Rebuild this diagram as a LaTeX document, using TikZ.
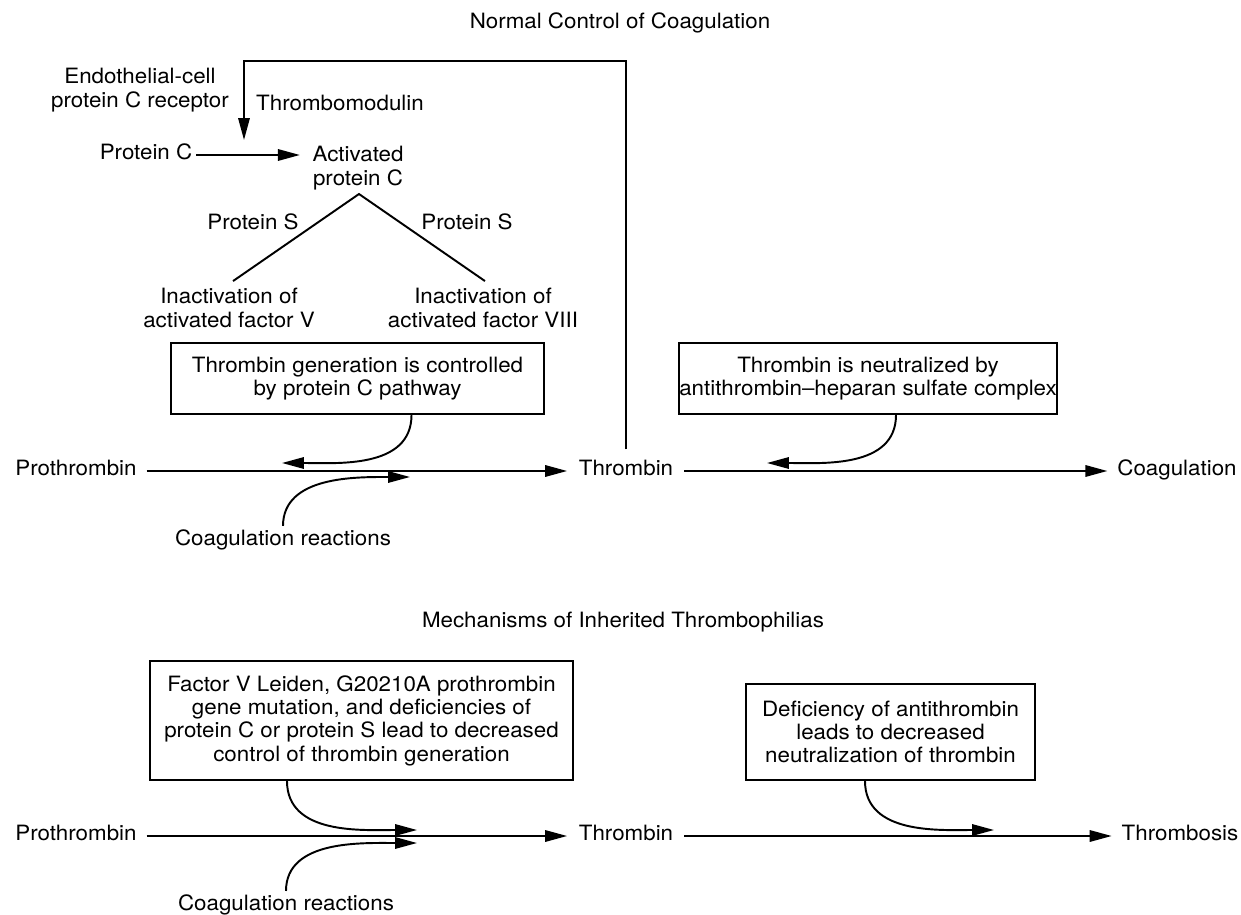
\documentclass[tikz,border=0pt]{standalone}
\usepackage{fontspec}
\setmainfont[FakeStretch=1.06]{TeX Gyre Heros}
\usetikzlibrary{positioning, arrows.meta, calc}

\begin{document}
\begin{tikzpicture}[x=0.02cm, y=-0.02cm, font=\fontsize{12}{13.3}\selectfont,
    lbl/.style={inner sep=0pt, align=center},
    row/.style={inner sep=0pt, anchor=mid},
    box/.style={draw, line width=1.1pt, align=center, inner sep=0pt},
    arr/.style={line width=1.1pt, -{Triangle[length=12.5pt, width=6.5pt]}},
    link/.style={line width=1.1pt}]
    \path[use as bounding box] (0,0) rectangle (1241,915);
    % normal control: protein C pathway
    \node[lbl] (title1) at (620,23) {Normal Control of Coagulation};
    \node[lbl] (epcr) at (140,90) {Endothelial-cell\\protein C receptor};
    \node[lbl] (tmod) at (340,103) {Thrombomodulin};
    \node[row] (protc) at (146,155) {Protein C};
    \node[lbl] (apc) at (358,168) {Activated\\protein C};
    \node[lbl] (psl) at (253,222) {Protein S};
    \node[lbl] (psr) at (467,222) {Protein S};
    \node[lbl] (inactv) at (229,308) {Inactivation of\\activated factor V};
    \node[lbl] (inactviii) at (483,308) {Inactivation of\\activated factor VIII};
    \coordinate (apex) at ($(apc.south)+(1,4)$);
    \draw[link] ($(inactv.north)+(4,-7)$) -- (apex) -- ($(inactviii.north)+(2,-7)$);
    \draw[arr, shorten <=2pt, shorten >=7pt] (protc.mid east) -- (protc.mid east -| apc.west);
    % thrombin row
    \node[box, minimum width=7.46cm, minimum height=1.42cm] (ctrlbox) at (357.5,378.5)
        {Thrombin generation is controlled\\by protein C pathway};
    \node[box, minimum width=7.56cm, minimum height=1.42cm] (neutbox) at (868,378.5)
        {Thrombin is neutralized by\\antithrombin--heparan sulfate complex};
    \node[row] (prothr) at (76,471) {Prothrombin};
    \node[row] (thr) at (626,471) {Thrombin};
    \node[row] (coag) at (1177,471) {Coagulation};
    \node[lbl] (coagrx) at (283,540) {Coagulation reactions};
    \draw[arr, shorten <=5.5pt, shorten >=6.5pt] (prothr.mid east) -- (thr.mid west);
    \draw[arr, shorten <=6pt, shorten >=5.5pt] (thr.mid east) -- (coag.mid west);
    % thrombin feeds back to thrombomodulin
    \coordinate (tmtop) at (244,61);
    \coordinate (tmtip) at (244,140);
    \draw[arr, shorten <=6pt] (thr.north) |- (tmtop) -- (tmtip);
    \coordinate (ctrlin) at (282,463);
    \coordinate (rxin) at (410,477);
    \coordinate (neutin) at (767,463);
    \draw[arr] ($(ctrlbox.south)+(54,0)$) to[out=-90, in=0] (ctrlin);
    \draw[arr, shorten <=2pt] (coagrx.north) to[out=90, in=180] (rxin);
    \draw[arr] ($(neutbox.south)+(28,0)$) to[out=-90, in=0] (neutin);
    % inherited thrombophilias
    \node[lbl] (title2) at (623,622) {Mechanisms of Inherited Thrombophilias};
    \node[box, minimum width=8.46cm, minimum height=2.38cm] (fvlbox) at (361.5,720.5)
        {Factor V Leiden, G20210A prothrombin\\gene mutation, and deficiencies of\\protein C or protein S lead to decreased\\control of thrombin generation};
    \node[box, minimum width=5.78cm, minimum height=1.92cm] (atbox) at (890.5,732)
        {Deficiency of antithrombin\\leads to decreased\\neutralization of thrombin};
    \node[row] (prothrb) at (76,836) {Prothrombin};
    \node[row] (thrb) at (626,836) {Thrombin};
    \node[row] (thrombosis) at (1180,836) {Thrombosis};
    \node[lbl] (coagrxb) at (286,905) {Coagulation reactions};
    \draw[arr, shorten <=5.5pt, shorten >=6.5pt] (prothrb.mid east) -- (thrb.mid west);
    \draw[arr, shorten <=6pt, shorten >=5.5pt] (thrb.mid east) -- (thrombosis.mid west);
    \coordinate (fvlin) at (417,830);
    \coordinate (rxbin) at (417,843);
    \coordinate (atin) at (994,830);
    \draw[arr] ($(fvlbox.south)+(-74.5,0)$) to[out=-90, in=180] (fvlin);
    \draw[arr, shorten <=2pt] (coagrxb.north) to[out=90, in=180] (rxbin);
    \draw[arr] ($(atbox.south)+(-25.5,0)$) to[out=-90, in=180] (atin);
\end{tikzpicture}
\end{document}
